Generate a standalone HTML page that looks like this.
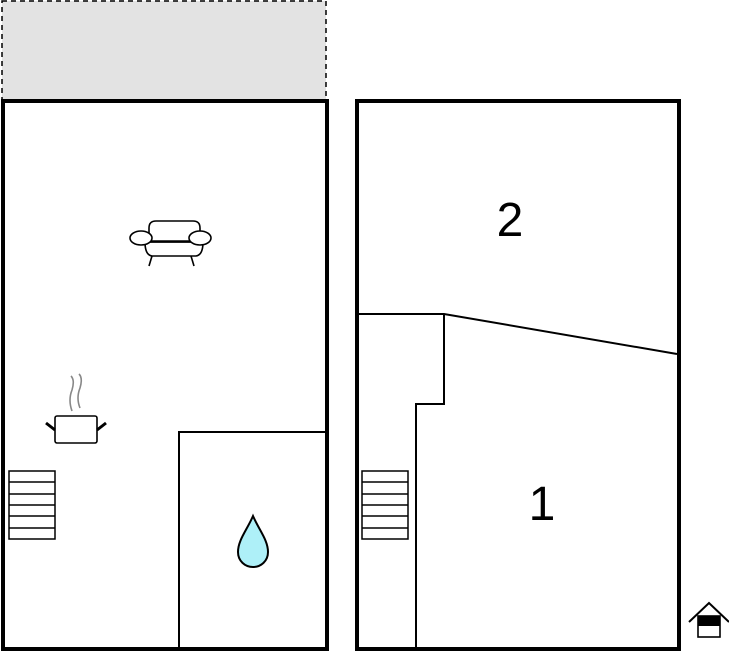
<!DOCTYPE html>
<html><head><meta charset="utf-8"><style>html,body{margin:0;padding:0;background:#fff}svg{display:block}</style></head>
<body>
<svg width="729" height="652" viewBox="0 0 729 652" xmlns="http://www.w3.org/2000/svg">
<rect x="2" y="1" width="324" height="100" fill="#e3e3e3" stroke="#000" stroke-width="1.5" stroke-dasharray="5,4"/>
<rect x="3" y="101" width="324" height="548" fill="#fff" stroke="#000" stroke-width="4"/>
<rect x="357" y="101" width="322" height="548" fill="#fff" stroke="#000" stroke-width="4"/>
<g stroke="#000" stroke-width="2" fill="none">
<polyline points="179,650 179,432 325,432"/>
<polyline points="358,314 444,314 677,354"/>
<polyline points="444,314 444,404 416,404 416,650"/>
</g>
<g stroke="#000" stroke-width="1.5" fill="#fff">
<rect x="9" y="471" width="46" height="68"/>
<line x1="9" y1="482" x2="55" y2="482"/><line x1="9" y1="494" x2="55" y2="494"/><line x1="9" y1="505" x2="55" y2="505"/><line x1="9" y1="516" x2="55" y2="516"/><line x1="9" y1="528" x2="55" y2="528"/>
<rect x="362" y="471" width="46" height="68"/>
<line x1="362" y1="482" x2="408" y2="482"/><line x1="362" y1="494" x2="408" y2="494"/><line x1="362" y1="505" x2="408" y2="505"/><line x1="362" y1="516" x2="408" y2="516"/><line x1="362" y1="528" x2="408" y2="528"/>
</g>
<!-- sofa -->
<g stroke="#000" stroke-width="1.6" fill="#fff">
<path d="M149,241 L149,228 Q149,221 156,221 L193,221 Q200,221 200,228 L200,241 Z"/>
<path d="M145,242 Q145,255 152,256 L196,256 Q203,255 203,242 Z"/>
<line x1="142" y1="242" x2="200" y2="242"/>
<ellipse cx="141" cy="238" rx="11" ry="7"/>
<ellipse cx="200" cy="238" rx="11" ry="7"/>
<line x1="152" y1="256" x2="149" y2="266"/>
<line x1="191" y1="256" x2="194" y2="266"/>
</g>
<!-- pot -->
<g>
<path d="M72,411 Q68,400 72,390 Q75,380 71,376" stroke="#888" stroke-width="1.6" fill="none"/>
<path d="M80,408 Q76,398 80,388 Q83,378 79,374" stroke="#888" stroke-width="1.6" fill="none"/>
<rect x="55" y="416" width="42" height="27" rx="2" fill="#fff" stroke="#000" stroke-width="1.6"/>
<line x1="46" y1="423" x2="55" y2="430" stroke="#000" stroke-width="3"/>
<line x1="106" y1="423" x2="97" y2="430" stroke="#000" stroke-width="3"/>
</g>
<!-- drop -->
<path d="M253,516 C247,530 238,540 238,552 C238,561 245,567 253,567 C261,567 268,561 268,552 C268,540 259,530 253,516 Z" fill="#aef0f8" stroke="#000" stroke-width="2"/>
<text x="510" y="236" font-family="Liberation Sans, sans-serif" font-size="48" text-anchor="middle">2</text>
<text x="542" y="520" font-family="Liberation Sans, sans-serif" font-size="48" text-anchor="middle">1</text>
<!-- house icon -->
<g>
<polyline points="689,622 709,603 729,622" fill="none" stroke="#000" stroke-width="2"/>
<rect x="698" y="616" width="22" height="21" fill="#fff" stroke="#000" stroke-width="1.6"/>
<rect x="698" y="616" width="22" height="10" fill="#000"/>
</g>
</svg>
</body></html>
